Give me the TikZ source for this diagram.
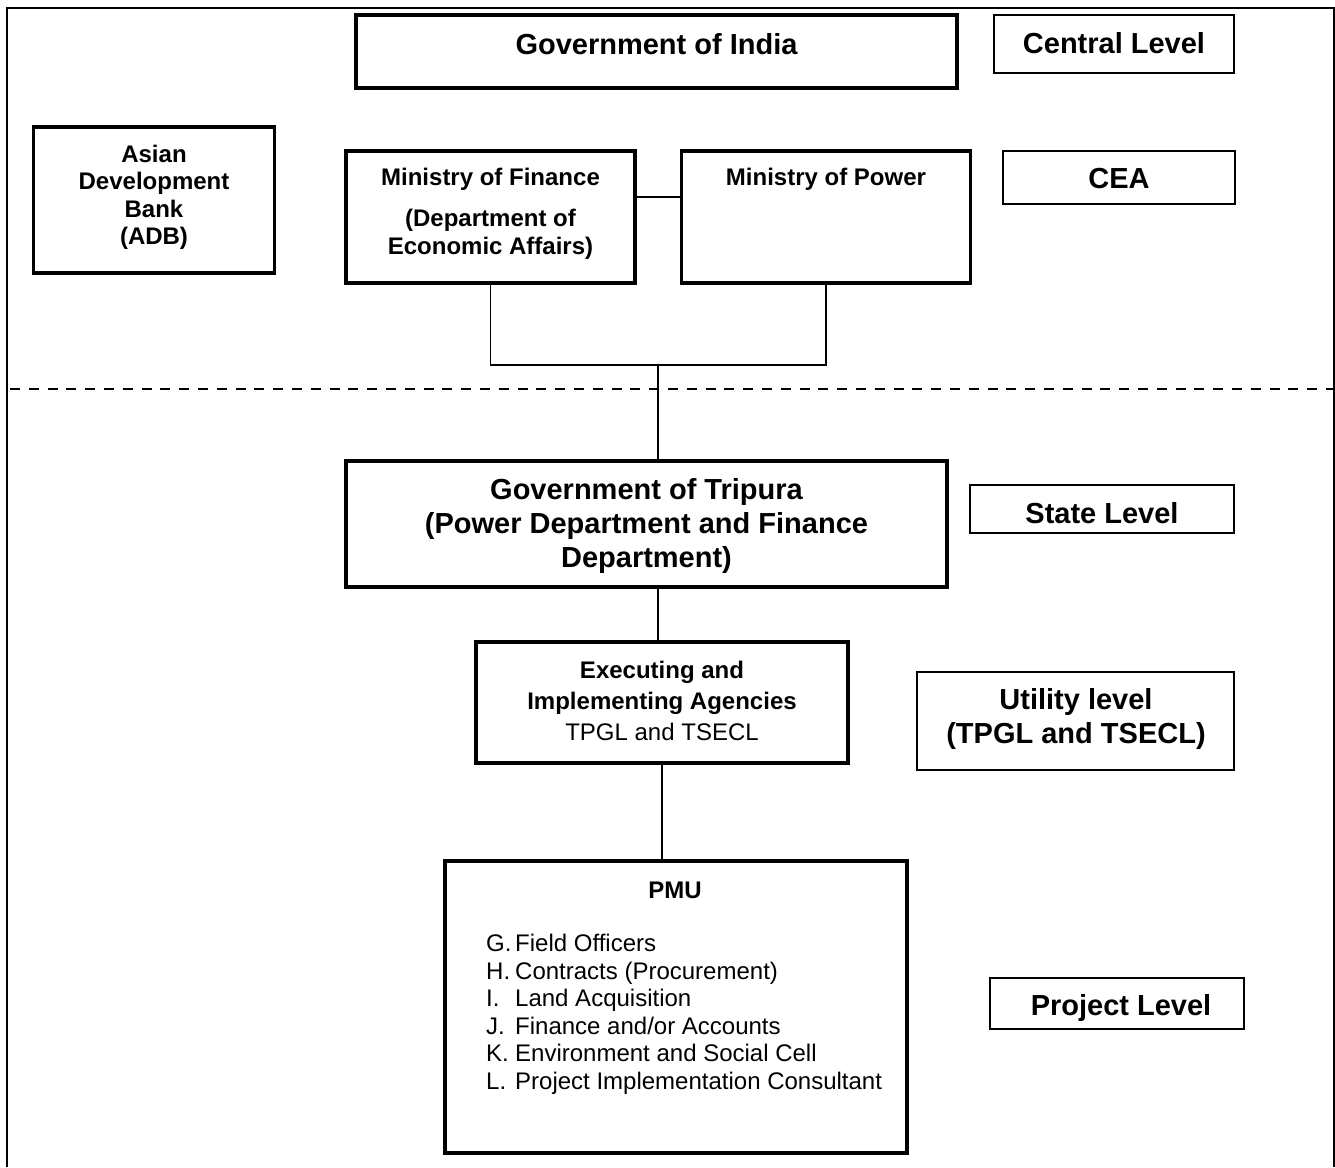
\documentclass[tikz,border=0pt]{standalone}
\usepackage{fontspec}
\setmainfont{Liberation Sans}
\begin{document}
\begin{tikzpicture}[x=1pt,y=-1pt,
  thickbox/.style={draw=black,line width=3.3,inner sep=0,outer sep=0},
  thinbox/.style={draw=black,line width=1.8,inner sep=0,outer sep=0},
  conn/.style={draw=black,line width=1.4},
  bigtxt/.style={font=\fontsize{29}{34}\selectfont\bfseries,inner sep=0,anchor=base},
  medtxt/.style={font=\fontsize{24}{27.5}\selectfont\bfseries,inner sep=0,anchor=base},
  regtxt/.style={font=\fontsize{24}{27.5}\selectfont,inner sep=0,anchor=base},
  itemtxt/.style={font=\fontsize{24}{27.5}\selectfont,inner sep=0,anchor=base west}]
\useasboundingbox (0,0) rectangle (1335,1167);
% outer frame and level separator
\draw[line width=2] (7,1167) -- (7,8) -- (1334,8) -- (1334,1167);
\draw[line width=2.5,dash pattern=on 10 off 8.8] (10,389) -- (1334,389);
% boxes
\node[thickbox,minimum width=601,minimum height=73] (goi) at (656.5,51.5) {};
\node[thinbox,minimum width=240,minimum height=58] (central) at (1114,44) {};
\node[thickbox,minimum width=241,minimum height=146] (adb) at (154,200) {};
\node[thickbox,minimum width=289,minimum height=132] (mof) at (490.5,217) {};
\node[thickbox,minimum width=289.5,minimum height=132] (mop) at (826,217) {};
\node[thinbox,minimum width=231.5,minimum height=53] (cea) at (1119,177.5) {};
\node[thickbox,minimum width=601,minimum height=126] (got) at (646.5,524) {};
\node[thinbox,minimum width=264,minimum height=48] (state) at (1102,509) {};
\node[thickbox,minimum width=372,minimum height=121] (exec) at (662,702.5) {};
\node[thinbox,minimum width=317,minimum height=98] (util) at (1075.5,721) {};
\node[thickbox,minimum width=462,minimum height=292] (pmu) at (676,1007) {};
\node[thinbox,minimum width=254,minimum height=51] (proj) at (1117,1003.5) {};
% texts
\node[bigtxt] (goit) at (656.5,54) {Government of India};
\node[bigtxt] (centralt) at (1114,53) {Central Level};
\node[medtxt] (adb1) at (154,162) {Asian};
\node[medtxt] (adb2) at (154,189.5) {Development};
\node[medtxt] (adb3) at (154,217) {Bank};
\node[medtxt] (adb4) at (154,244.5) {(ADB)};
\node[medtxt] (mof1) at (490.5,185) {Ministry of Finance};
\node[medtxt] (mof2) at (490.5,226) {(Department of};
\node[medtxt] (mof3) at (490.5,254) {Economic Affairs)};
\node[medtxt] (mopt) at (826,185) {Ministry of Power};
\node[bigtxt] (ceat) at (1119,188) {CEA};
\node[bigtxt] (got1) at (646.5,499) {Government of Tripura};
\node[bigtxt] (got2) at (646.5,533) {(Power Department and Finance};
\node[bigtxt] (got3) at (646.5,567) {Department)};
\node[bigtxt] (statet) at (1102,523) {State Level};
\node[medtxt] (exec1) at (662,678) {Executing and};
\node[medtxt] (exec2) at (662,709) {Implementing Agencies};
\node[regtxt] (exec3) at (662,740) {TPGL and TSECL};
\node[bigtxt] (util1) at (1076,709) {Utility level};
\node[bigtxt] (util2) at (1076,743) {(TPGL and TSECL)};
\node[medtxt] (pmut) at (675,898) {PMU};
\node[itemtxt] (pmug) at (486,951) {\makebox[29pt][l]{G.}Field Officers};
\node[itemtxt] (pmuh) at (486,979) {\makebox[29pt][l]{H.}Contracts (Procurement)};
\node[itemtxt] (pmui) at (486,1006) {\makebox[29pt][l]{I.}Land Acquisition};
\node[itemtxt] (pmuj) at (486,1034) {\makebox[29pt][l]{J.}Finance and/or Accounts};
\node[itemtxt] (pmuk) at (486,1061) {\makebox[29pt][l]{K.}Environment and Social Cell};
\node[itemtxt] (pmul) at (486,1089) {\makebox[29pt][l]{L.}Project Implementation Consultant};
\node[bigtxt] (projt) at (1121,1015) {Project Level};
% connectors
\coordinate (mm) at (0,197);
\coordinate (j) at (658,365);
\draw[conn] (mof.east |- mm) -- (mop.west |- mm);
\draw[conn] (mof.south) -- (mof.south |- j) -- (mop.south |- j) -- (mop.south);
\draw[conn] (j) -- (j |- got.north);
\draw[conn] (j |- got.south) -- (j |- exec.north);
\draw[conn] (exec.south) -- (exec.south |- pmu.north);
\end{tikzpicture}
\end{document}
